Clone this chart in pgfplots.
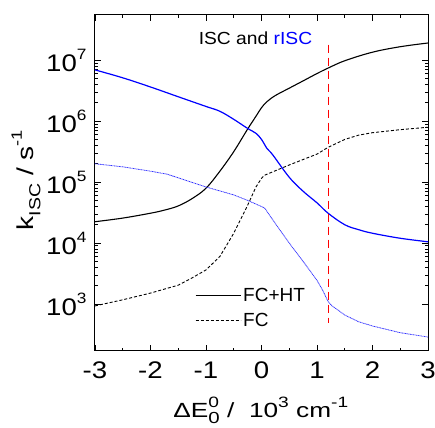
\documentclass[border=0pt]{standalone}
\usepackage{pgfplots}
\pgfplotsset{compat=1.18}
\usepackage{fontspec}
\setmainfont{Liberation Sans}
\newfontfamily\tickfont[FakeStretch=1.15]{Liberation Sans}
\newfontfamily\labfont[FakeStretch=1.28]{Liberation Sans}
\newfontfamily\ylabfont[FakeStretch=1.22]{Liberation Sans}
\newfontfamily\titfont[FakeStretch=1.1]{Liberation Sans}
\newcommand\sups[1]{\raisebox{0.5em}{\fontsize{15}{15}\selectfont #1}}
\newcommand\subs[1]{\raisebox{-0.3em}{\fontsize{16}{16}\selectfont #1}}

% rates in s^-1
\pgfplotstableread{
x y
-3 2.24e4
-2.5 2.57e4
-2 3.09e4
-1.75 3.47e4
-1.5 4.07e4
-1.25 5.37e4
-1 7.94e4
-0.75 1.51e5
-0.5 3.16e5
-0.25 7.41e5
-0.1 1.20e6
0 1.66e6
0.1 2.09e6
0.25 2.63e6
0.5 3.47e6
0.75 4.57e6
1 6.03e6
1.2 7.41e6
1.5 9.77e6
2 1.35e7
2.5 1.66e7
3 1.91e7
}\iscfcht
\pgfplotstableread{
x y
-3 933
-2.5 1175
-2 1514
-1.5 2042
-1.25 2690
-1 3631
-0.75 6026
-0.5 1.45e4
-0.25 4.17e4
-0.1 8.32e4
0 1.15e5
0.05 1.29e5
0.5 1.91e5
1 2.88e5
1.2 3.72e5
1.5 5.01e5
1.75 5.89e5
2 6.46e5
2.5 7.24e5
3 7.94e5
}\iscfc
\pgfplotstableread{
x y
-3 6.92e6
-2.5 5.13e6
-2 3.63e6
-1.5 2.51e6
-1 1.74e6
-0.75 1.45e6
-0.5 1.07e6
-0.25 7.59e5
-0.1 6.31e5
0 5.01e5
0.1 3.55e5
0.2 2.82e5
0.5 1.20e5
0.75 7.08e4
1 4.57e4
1.2 3.09e4
1.5 2.0e4
1.75 1.66e4
2 1.45e4
2.5 1.20e4
3 1.05e4
}\risfcht
\pgfplotstableread{
x y
-3 2.0e5
-2.5 1.78e5
-2 1.51e5
-1.7 1.35e5
-1 8.32e4
-0.5 6.17e4
-0.25 5.01e4
0 3.98e4
0.06 3.72e4
0.25 2.09e4
0.5 1.0e4
0.75 5.01e3
1 2.45e3
1.1 1.70e3
1.2 1.10e3
1.27 933
1.35 832
1.5 661
1.75 513
2 437
2.5 339
3 288
}\risfc

\begin{document}
\begin{tikzpicture}
\begin{axis}[
    scale only axis,
    width=333pt, height=336pt,
    ymode=log,
    xmin=-3, xmax=3,
    ymin=170, ymax=5.5e7,
    xtick={-3,...,3},
    minor x tick num=1,
    ytick={1e3,1e4,1e5,1e6,1e7},
    yticklabels={10\sups{3},10\sups{4},10\sups{5},10\sups{6},10\sups{7}},
    xticklabels={-3,-2,-1,0,1,2,3},
    tick align=inside,
    tick pos=both,
    major tick length=6pt,
    minor tick length=3pt,
    axis line style={line width=1pt},
    every tick/.style={black, line width=0.8pt},
    tick label style={font=\tickfont\fontsize{24}{26}\selectfont},
    xticklabel style={yshift=-7pt},
    yticklabel style={xshift=-5pt},
    xlabel={ΔE\rlap{\sups{0}}\subs{0} /\ \ 10\sups{3} cm\sups{-1}},
    ylabel={k\subs{ISC} / s\sups{-1}},
    xlabel style={font=\labfont\fontsize{20.5}{24}\selectfont,
        at={(axis description cs:0.498,-0.176)}, anchor=center},
    ylabel style={font=\ylabfont\fontsize{23}{26}\selectfont,
        at={(axis description cs:-0.207,0.509)}, anchor=center},
    legend style={draw=none, fill=none, at={(axis description cs:0.30,0.19)}, anchor=north west,
        font=\fontsize{19}{22}\selectfont, row sep=8pt, inner sep=0pt,
        nodes={inner xsep=2pt, inner ysep=1pt}},
    legend cell align=left,
    legend image code/.code={\draw[#1] (0pt,0pt) -- (45pt,0pt);},
]
\addplot[black, line width=1.1pt, smooth, tension=0.6] table {\iscfcht};
\addlegendentry{FC+HT}
\addplot[black, line width=0.9pt, dash pattern=on 3pt off 2pt] table {\iscfc};
\addlegendentry{FC}
\addplot[blue, line width=1.2pt, smooth, tension=0.6, forget plot] table {\risfcht};
\addplot[blue!80, line width=0.8pt, dash pattern=on 1pt off 0.6pt, forget plot] table {\risfc};
\draw[red, line width=1.2pt, dash pattern=on 8pt off 5pt] (axis cs:1.2,1.8e7) -- (axis cs:1.2,4.9e2);
\node[font=\titfont\fontsize{17.5}{20}\selectfont] at (axis description cs:0.482,0.930) {ISC and \textcolor{blue}{rISC}};
\end{axis}
\pgfresetboundingbox
\path (-95pt,-76pt) rectangle (340pt,351pt);
\end{tikzpicture}
\end{document}
